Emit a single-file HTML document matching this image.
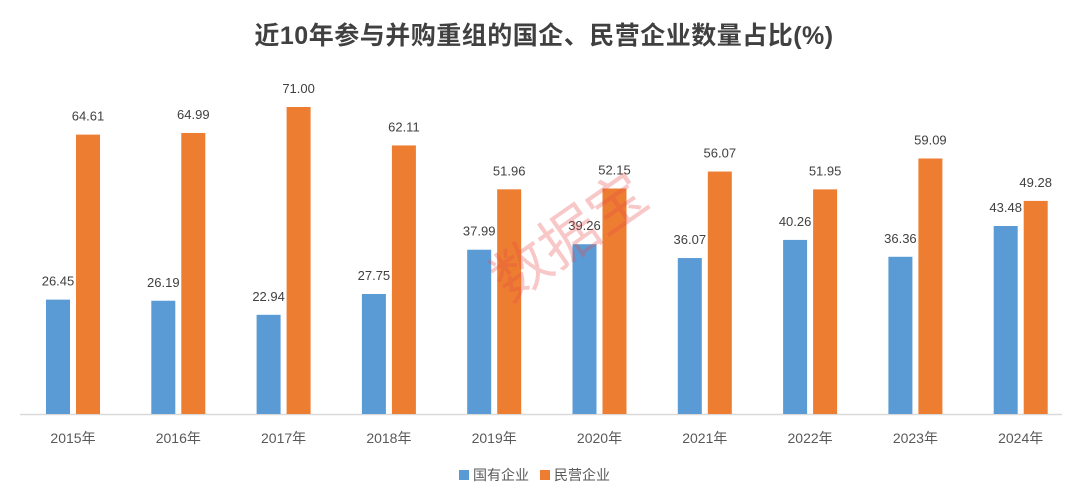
<!DOCTYPE html>
<html><head><meta charset="utf-8">
<style>
html,body{margin:0;padding:0;background:#fff;}
body{width:1080px;height:491px;overflow:hidden;font-family:"Liberation Sans","Noto Sans CJK SC",sans-serif;}
svg text{font-family:"Liberation Sans","Noto Sans CJK SC",sans-serif;}
</style></head>
<body>
<svg id="chart" width="1080" height="491" xmlns="http://www.w3.org/2000/svg">
<text x="544" y="44" text-anchor="middle" font-size="25" font-weight="bold" letter-spacing="0.5" fill="#404040">近10年参与并购重组的国企、民营企业数量占比(%)</text>
<line x1="20" y1="414.5" x2="1062" y2="414.5" stroke="#d9d9d9" stroke-width="1.5"/>
<g id="bars"></g>
<g>
<rect x="459" y="470" width="10" height="10" fill="#5b9bd5"/>
<text x="473" y="480" font-size="14" fill="#595959">国有企业</text>
<rect x="540" y="470" width="10" height="10" fill="#ed7d31"/>
<text x="554" y="480" font-size="14" fill="#595959">民营企业</text>
</g>
<text x="575" y="255" text-anchor="middle" font-size="58" fill="#e84a4a" fill-opacity="0.3" transform="rotate(-35 575 245)">数据宝</text>
</svg>
<script>
const categories = ["2015年","2016年","2017年","2018年","2019年","2020年","2021年","2022年","2023年","2024年"];
const stateValues = [26.45,26.19,22.94,27.75,37.99,39.26,36.07,40.26,36.36,43.48];
const privateValues = [64.61,64.99,71.00,62.11,51.96,52.15,56.07,51.95,59.09,49.28];

const baseY = 414, pxPerUnit = 4.324;
const x0 = 73, step = 105.3, barW = 24, gap = 6;
const yScale = v => baseY - v * pxPerUnit;
const xCenter = i => x0 + i * step;
const g = document.getElementById('bars');
const NS = "http://www.w3.org/2000/svg";
function bar(i, v, isState){
  const x = isState ? xCenter(i) - gap/2 - barW : xCenter(i) + gap/2;
  const r = document.createElementNS(NS,'rect');
  
  
  r.setAttribute('x', x); r.setAttribute('y', yScale(v));
  r.setAttribute('width', barW); r.setAttribute('height', baseY - yScale(v));
  r.setAttribute('fill', isState ? '#5b9bd5' : '#ed7d31');
  g.appendChild(r);
  const t = document.createElementNS(NS,'text');
  
  
  t.setAttribute('x', x + barW/2); t.setAttribute('y', yScale(v) - 14);
  t.setAttribute('text-anchor','middle'); t.setAttribute('font-size','13'); t.setAttribute('fill','#404040');
  t.textContent = v.toFixed(2);
  g.appendChild(t);
}
categories.forEach((c,i)=>{
  bar(i, stateValues[i], true);
  bar(i, privateValues[i], false);
  const t = document.createElementNS(NS,'text');
  
  
  t.setAttribute('x', xCenter(i)); t.setAttribute('y', 443);
  t.setAttribute('text-anchor','middle'); t.setAttribute('font-size','14'); t.setAttribute('fill','#595959');
  t.textContent = c;
  g.appendChild(t);
});
</script>
</body></html>
